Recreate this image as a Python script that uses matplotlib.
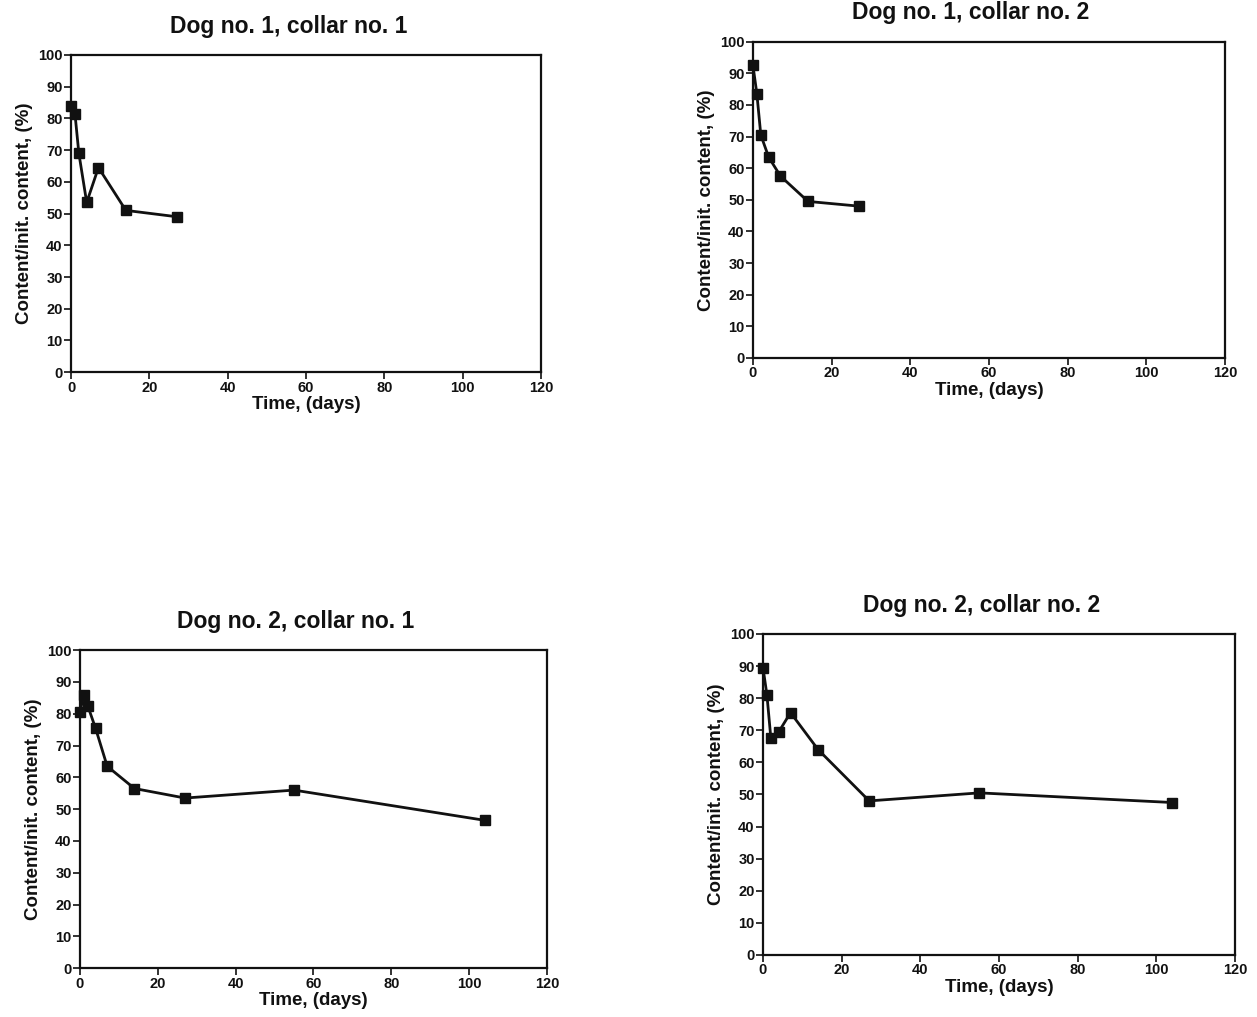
import matplotlib.pyplot as plt

plt.rcParams["font.family"] = ["Liberation Sans", "DejaVu Sans"]
plt.rcParams["font.weight"] = "bold"

# sampling times (days) and remaining content (% of initial) per dog/collar
days_short = [0, 1, 2, 4, 7, 14, 27]
days_long = [0, 1, 2, 4, 7, 14, 27, 55, 104]

dog1_collar1 = [84, 81.5, 69, 53.5, 64.5, 51, 49]
dog1_collar2 = [92.5, 83.5, 70.5, 63.5, 57.5, 49.5, 48]
dog2_collar1 = [80.5, 86, 82.5, 75.5, 63.5, 56.5, 53.5, 56, 46.5]
dog2_collar2 = [89.5, 81, 67.5, 69.5, 75.5, 64, 48, 50.5, 47.5]

titles = [
    "Dog no. 1, collar no. 1",
    "Dog no. 1, collar no. 2",
    "Dog no. 2, collar no. 1",
    "Dog no. 2, collar no. 2",
]

x_ticks = [0, 20, 40, 60, 80, 100, 120]
y_ticks = [0, 10, 20, 30, 40, 50, 60, 70, 80, 90, 100]

fig = plt.figure(figsize=(12.57, 10.17), dpi=100)

# axes boxes [left, bottom, width, height] taken from the scanned page
boxes = [
    [0.0565, 0.634, 0.374, 0.312],
    [0.599, 0.648, 0.3755, 0.311],
    [0.0636, 0.048, 0.3715, 0.3127],
    [0.607, 0.061, 0.3755, 0.3156],
]
series = [
    (days_short, dog1_collar1),
    (days_short, dog1_collar2),
    (days_long, dog2_collar1),
    (days_long, dog2_collar2),
]

for box, (x, y), title in zip(boxes, series, titles):
    ax = fig.add_axes(box)
    ax.plot(x, y, color="#111111", linewidth=2.0, marker="s",
            markersize=6.5, markerfacecolor="#111111", clip_on=False)
    ax.set_xlim(0, 120)
    ax.set_ylim(0, 100)
    ax.set_xticks(x_ticks)
    ax.set_yticks(y_ticks)
    ax.tick_params(direction="out", length=5, width=1.2, labelsize=10.5,
                   pad=1, colors="#111111")
    for spine in ax.spines.values():
        spine.set_linewidth(1.6)
        spine.set_color("#111111")
    # titles on the page sit a little left of the box centre
    ax.set_title(title, fontsize=16.5, fontweight="bold", pad=16,
                 x=0.462, color="#111111")
    ax.set_xlabel("Time, (days)", fontsize=13.5, fontweight="bold",
                  labelpad=1, color="#111111")
    ax.set_ylabel("Content/init. content, (%)", fontsize=13.5,
                  fontweight="bold", labelpad=4, color="#111111")

plt.savefig("out.png", dpi=100)
